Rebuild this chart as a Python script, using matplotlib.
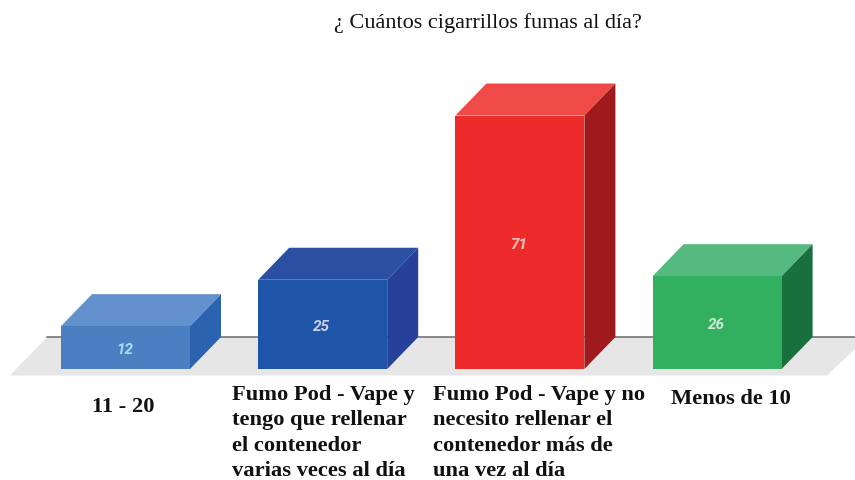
import matplotlib
matplotlib.use("Agg")
import matplotlib.pyplot as plt
from matplotlib.patches import Polygon

title = "¿ Cuántos cigarrillos fumas al día?"
categories = ["11 - 20",
              "Fumo Pod - Vape y\ntengo que rellenar\nel contenedor\nvarias veces al día",
              "Fumo Pod - Vape y no\nnecesito rellenar el\ncontenedor más de\nuna vez al día",
              "Menos de 10"]
values = [12, 25, 71, 26]
front_colors = ["#4a80c2", "#1f55a8", "#ee2b2b", "#33b05f"]
top_colors = ["#6291cd", "#2a4fa3", "#ef4a48", "#55ba80"]
side_colors = ["#2b63ae", "#27409a", "#9e1a1c", "#18713c"]
value_colors = ["#a8dcf5", "#c8cfe8", "#f3c4bc", "#cfe8d5"]

W, H = 855, 481
Y0, UNIT, STEP, X0 = 370, 3.57, 197.2, 125.5
fig = plt.figure(figsize=(W / 100, H / 100), dpi=100, facecolor="white")
ax = fig.add_axes([0, 0, 1, 1])
ax.axis("off")

# scales: one category step = STEP px, one value unit = UNIT px
ax.set_xlim(-X0 / STEP, (W - X0) / STEP)
ax.set_ylim((Y0 - H) / UNIT, Y0 / UNIT)

BAR_W = 129 / STEP
DX = 31 / STEP
DY = 32 / UNIT


def px(x, y):
    return ((x - X0) / STEP, (Y0 - y) / UNIT)


ax.add_patch(Polygon([px(47, 338), px(855, 338), px(855, 350), px(827, 376.5), px(10, 376.5)],
                     closed=True, fc="#e6e6e6", ec="none", zorder=1))
ax.plot(*zip(px(47, 338), px(855, 338)), color="#6b6b6b", lw=1.1, zorder=1.5)

for i, v in enumerate(values):
    l, r = i - BAR_W / 2, i + BAR_W / 2
    ax.add_patch(Polygon([(l, v), (r, v), (r + DX, v + DY), (l + DX, v + DY)],
                         closed=True, fc=top_colors[i], ec="none", zorder=2))
    ax.add_patch(Polygon([(r, 0), (r + DX, DY), (r + DX, v + DY), (r, v)],
                         closed=True, fc=side_colors[i], ec="none", zorder=2))
    ax.bar(i, v, width=BAR_W, color=front_colors[i], zorder=3)
    ax.text(i - 0.005, v / 2 - 0.4, str(v), color=value_colors[i], ha="center", va="center",
            fontsize=11, fontweight="bold", fontstyle="italic", family="Roboto", zorder=4)

serif = "Liberation Serif"
ax.text(*px(488, 23), title, ha="center", va="center", fontsize=16, family=serif, color="#111111")

label_pos = [(92, 407), (232, 433), (433, 433), (671, 399)]
for (x, y), lab in zip(label_pos, categories):
    ax.text(*px(x, y), lab, ha="left", va="center", fontsize=16.2, fontweight="bold",
            family=serif, color="#111111", linespacing=1.36)

fig.savefig("out.png", dpi=100, facecolor="white")
